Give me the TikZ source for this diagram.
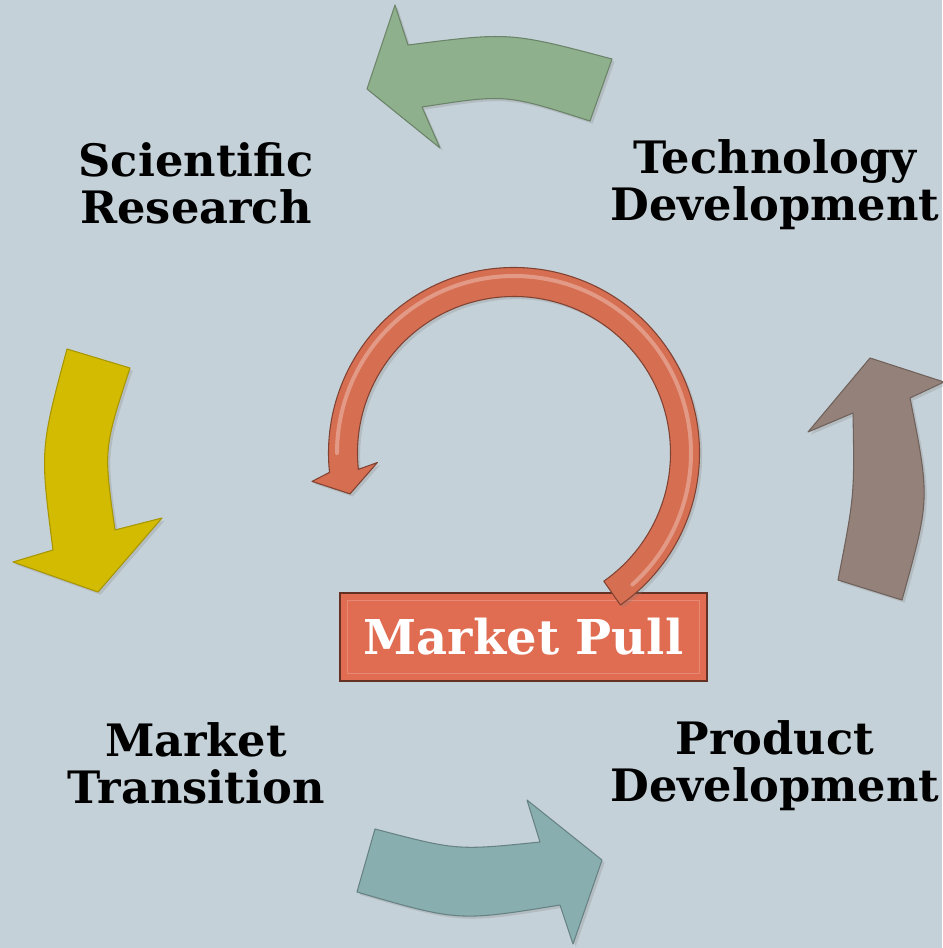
\documentclass[tikz,border=0pt]{standalone}
\usepackage{fontspec}
\setmainfont{DejaVu Serif}
\usepackage{xcolor}
\usetikzlibrary{shadows}

\definecolor{bgblue}{RGB}{197,209,216}
\definecolor{sagegreen}{RGB}{143,176,140}
\definecolor{taupe}{RGB}{148,129,121}
\definecolor{goldyellow}{RGB}{210,187,0}
\definecolor{seateal}{RGB}{137,174,175}
\definecolor{pullred}{RGB}{214,110,82}
\definecolor{boxred}{RGB}{224,108,82}

\begin{document}
\begin{tikzpicture}[
  x=0.75pt, y=0.75pt,
  stage/.style={font=\bfseries\fontsize{33.5}{35.25}\selectfont, align=center,
    anchor=base, inner sep=0pt},
  bigarrow/.style={line width=0.8pt, line join=round,
    drop shadow={opacity=0.25, shadow xshift=2pt, shadow yshift=-2pt}},
  pullbox/.style={fill=boxred, draw=boxred!45!black, line width=1.2pt,
    minimum width=275pt, minimum height=66pt, inner sep=0pt, text=white,
    font=\bfseries\fontsize{36}{40}\selectfont}
]
\useasboundingbox (0,0) rectangle (942,-948);
\fill[bgblue] (0,0) rectangle (942,-948);

\filldraw[bigarrow, fill=sagegreen, draw=sagegreen!75!black]
  (612,-59) .. controls (510,-32) .. (408,-45) -- (395,-5) -- (367,-89)
  -- (440,-148) -- (422,-107) .. controls (506,-94) .. (590,-121) -- cycle;
\filldraw[bigarrow, fill=taupe, draw=taupe!75!black]
  (870,-358) -- (944,-382) -- (910,-398) .. controls (930,-499) .. (902,-600)
  -- (838,-580) .. controls (854.5,-495.5) .. (853,-413) -- (808,-432) -- cycle;
\filldraw[bigarrow, fill=goldyellow, draw=goldyellow!80!black]
  (67,-349) -- (130,-368) .. controls (103.5,-449) .. (115,-530) -- (162,-518)
  -- (98,-592) -- (13,-562) -- (53,-550) .. controls (40,-449.5) .. (67,-349) -- cycle;
\filldraw[bigarrow, fill=seateal, draw=seateal!75!black]
  (375,-829) .. controls (457,-850.5) .. (540,-842) -- (527,-800) -- (602,-860)
  -- (573,-944) -- (560,-905) .. controls (458.5,-921.5) .. (357,-892) -- cycle;

\node[stage] (sci) at (196,-224) {Scientific\\Research};
\node[stage] (tech) at (775,-221) {Technology\\Development};
\node[stage] (trans) at (196,-803) {Market\\Transition};
\node[stage] (prod) at (775,-801) {Product\\Development};

\node[pullbox] (pull) at (523.5,-637) {Market Pull};
\draw[boxred!80!white, line width=0.8pt]
  ([shift={(6pt,-6pt)}]pull.north west) rectangle ([shift={(-6pt,6pt)}]pull.south east);

\coordinate (hub) at (514,-453);
\filldraw[bigarrow, fill=pullred, draw=pullred!60!black]
  ([shift={(-55:185.5)}]hub) arc[start angle=-55, end angle=186, radius=185.5]
  -- ([shift={(188:204)}]hub) -- ([shift={(194:169)}]hub)
  -- ([shift={(184:137)}]hub) -- ([shift={(186:156.5)}]hub)
  arc[start angle=186, end angle=-55, radius=156.5] -- cycle;
\draw[pullred!50!white, line width=3pt, opacity=0.6, line cap=round]
  ([shift={(-48:177)}]hub) arc[start angle=-48, end angle=180, radius=177];
\end{tikzpicture}
\end{document}
